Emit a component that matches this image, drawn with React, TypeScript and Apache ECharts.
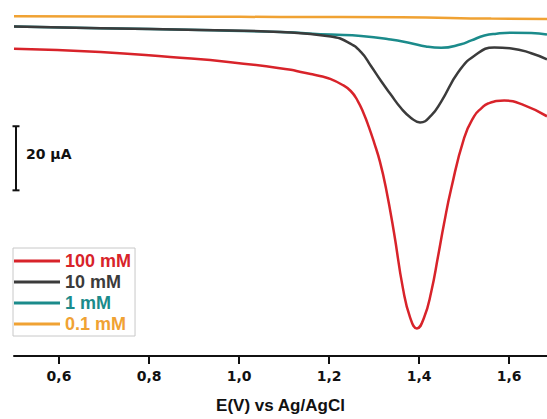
import { useEffect, useRef } from "react";
import * as echarts from "echarts";

// Potential axis (V vs Ag/AgCl)
const potentialMin = 0.5;
const potentialMax = 1.684;
const potentialTicks = [0.6, 0.8, 1.0, 1.2, 1.4, 1.6];

// Current window (µA, relative)
const currentMax = 5;
const currentMin = -106.1;

// 100 mM
const e100 = [0.5, 0.692, 0.847, 0.981, 1.115, 1.137, 1.159, 1.182, 1.204, 1.226, 1.248, 1.264, 1.277, 1.288, 1.3, 1.313, 1.326, 1.344, 1.364, 1.38, 1.395, 1.411, 1.427, 1.442, 1.455, 1.471, 1.5, 1.522, 1.538, 1.553, 1.589, 1.634, 1.684];
const i100 = [-10.2, -11.2, -12.8, -14.4, -16.8, -17.5, -18.1, -18.8, -19.7, -21.2, -23.4, -26.6, -30.5, -34.5, -39.5, -45.5, -53.5, -67.5, -85.0, -94.1, -97.5, -94.1, -86.0, -75.0, -65.0, -54.0, -38.0, -31.3, -28.8, -27.3, -26.4, -27.9, -31.3];

// 10 mM
const e10 = [0.5, 0.692, 0.914, 1.092, 1.204, 1.242, 1.271, 1.293, 1.315, 1.337, 1.36, 1.382, 1.402, 1.427, 1.449, 1.487, 1.522, 1.567, 1.605, 1.649, 1.684];
const i10 = [-3.3, -3.8, -4.4, -5.0, -6.4, -8.2, -11.3, -15.6, -20.2, -24.5, -28.8, -31.8, -33.2, -31.0, -26.7, -17.5, -12.5, -9.8, -10.1, -11.6, -13.5];

// 1 mM
const e1 = [0.5, 0.692, 0.914, 1.092, 1.204, 1.271, 1.337, 1.382, 1.415, 1.449, 1.493, 1.516, 1.545, 1.572, 1.605, 1.649, 1.684];
const i1 = [-3.3, -3.8, -4.4, -5.0, -5.8, -6.2, -7.3, -8.5, -9.5, -9.9, -8.8, -7.6, -6.1, -5.5, -5.2, -5.3, -5.8];

// 0.1 mM
const e01 = [0.5, 0.914, 1.092, 1.36, 1.56, 1.684];
const i01 = [-0.1, -0.2, -0.3, -0.4, -0.8, -0.9];

const seriesNames = ["100 mM", "10 mM", "1 mM", "0.1 mM"];
const seriesColors = ["#d8232a", "#3b3b3b", "#1b8b8b", "#f0a233"];

// Vertical scale bar
const scaleBarTop = -34.4;
const scaleBarSpan = 20;
const scaleBarLabel = "20 µA";

const zip = (xs: number[], ys: number[]) => xs.map((x, k) => [x, ys[k]]);

export default function App() {
  const ref = useRef<HTMLDivElement>(null);

  useEffect(() => {
    if (!ref.current) return;
    const chart = echarts.init(ref.current, null, { renderer: "svg" });

    const curves = [
      { name: seriesNames[3], color: seriesColors[3], data: zip(e01, i01) },
      { name: seriesNames[2], color: seriesColors[2], data: zip(e1, i1) },
      { name: seriesNames[1], color: seriesColors[1], data: zip(e10, i10) },
      { name: seriesNames[0], color: seriesColors[0], data: zip(e100, i100) },
    ];

    chart.setOption({
      animation: false,
      backgroundColor: "#ffffff",
      grid: { left: 14, right: 0, top: 0, bottom: 58, containLabel: false },
      legend: {
        orient: "vertical",
        left: 13,
        top: 248,
        icon: "rect",
        itemWidth: 46,
        itemHeight: 3,
        itemGap: 3,
        padding: [4, 4, 3, 1],
        borderColor: "#c8c8c8",
        borderWidth: 1,
        selectedMode: false,
        textStyle: {
          fontFamily: "Liberation Sans, Arial, sans-serif",
          fontWeight: "bold",
          fontSize: 18,
          lineHeight: 18,
        },
        data: seriesNames.map((n, k) => ({
          name: n,
          textStyle: { color: seriesColors[k] },
        })),
      },
      xAxis: {
        type: "value",
        min: potentialMin,
        max: potentialMax,
        name: "E(V) vs Ag/AgCl",
        nameLocation: "middle",
        nameGap: 41,
        nameTextStyle: {
          fontFamily: "Liberation Sans, Arial, sans-serif",
          fontWeight: "bold",
          fontSize: 17,
          color: "#111111",
          verticalAlign: "top",
        },
        axisLine: { onZero: false, lineStyle: { color: "#111111", width: 2 } },
        axisTick: {
          show: true,
          inside: false,
          length: 8,
          customValues: potentialTicks,
          lineStyle: { color: "#111111", width: 2 },
        },
        axisLabel: {
          customValues: potentialTicks,
          margin: 13,
          fontFamily: "DejaVu Sans, sans-serif",
          fontWeight: "bold",
          fontSize: 14,
          color: "#111111",
          formatter: (v: number) => v.toFixed(1).replace(".", ","),
        },
        splitLine: { show: false },
      },
      yAxis: {
        type: "value",
        min: currentMin,
        max: currentMax,
        show: false,
        splitLine: { show: false },
      },
      series: curves.map((c) => ({
        name: c.name,
        type: "line",
        data: c.data,
        smooth: 0.5,
        showSymbol: false,
        symbol: "none",
        color: c.color,
        lineStyle: { color: c.color, width: 2.5 },
      })),
    });

    const yTop = chart.convertToPixel({ yAxisIndex: 0 }, scaleBarTop) as number;
    const yBot = chart.convertToPixel({ yAxisIndex: 0 }, scaleBarTop - scaleBarSpan) as number;
    const barX = 16;
    const barStroke = { stroke: "#111111", lineWidth: 2 };

    chart.setOption({
      graphic: [
        { type: "line", shape: { x1: barX, y1: yTop, x2: barX, y2: yBot }, style: barStroke },
        { type: "line", shape: { x1: barX - 3.5, y1: yTop, x2: barX + 3.5, y2: yTop }, style: barStroke },
        { type: "line", shape: { x1: barX - 3.5, y1: yBot, x2: barX + 3.5, y2: yBot }, style: barStroke },
        {
          type: "text",
          x: 26,
          y: (yTop + yBot) / 2 - 4,
          style: {
            text: scaleBarLabel,
            fill: "#111111",
            font: "bold 14px 'DejaVu Sans', sans-serif",
            verticalAlign: "middle",
            align: "left",
          },
        },
      ],
    });

    return () => chart.dispose();
  }, []);

  return (
    <div
      ref={ref}
      style={{ position: "absolute", left: 0, top: 0, width: 547, height: 419 }}
    />
  );
}
